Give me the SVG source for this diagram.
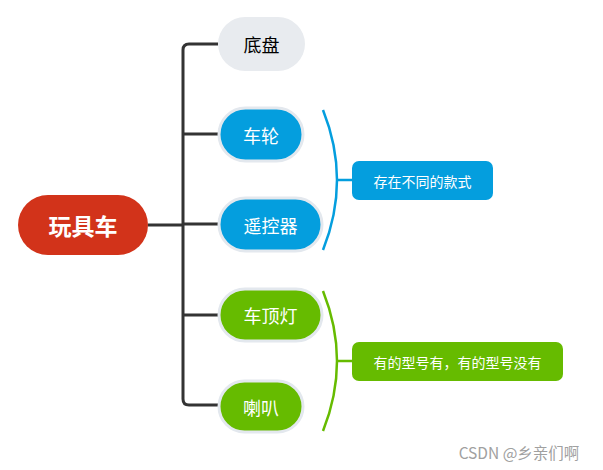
<svg xmlns="http://www.w3.org/2000/svg" width="603" height="470" viewBox="0 0 603 470">
<style>
text{font-family:"Microsoft YaHei","Noto Sans CJK SC",sans-serif;text-anchor:middle;dominant-baseline:central}
.conn{fill:none;stroke:#333;stroke-width:3}
.blue{fill:#049ede;stroke:#e3e8ee;stroke-width:3}
.green{fill:#66bb00;stroke:#e3e8ee;stroke-width:3}
.t{fill:#fff;font-size:18px}
.lt{fill:#fff;font-size:14px}
</style>
<rect width="603" height="470" fill="#fff"/>
<g id="connectors">
<path class="conn" d="M148 225H183"/>
<path class="conn" d="M218 44H189Q183 44 183 50V399Q183 405 189 405H218"/>
<path class="conn" d="M183 134H218M183 224H218M183 315H218"/>
<path d="M323 110Q351 180 323 250M337 180H352" fill="none" stroke="#049ede" stroke-width="2.5"/>
<path d="M323 291Q351 361 323 431M337 361H352" fill="none" stroke="#66bb00" stroke-width="2.5"/>
</g>
<g id="root">
<rect x="18" y="195" width="130" height="60" rx="30" fill="#d2331a"/>
<text x="83" y="225" fill="#fff" font-size="23" font-weight="bold">玩具车</text>
</g>
<g id="n-dipan">
<rect x="218" y="17" width="87" height="54" rx="27" fill="#e8ebef"/>
<text x="261.5" y="44" font-size="18" fill="#000">底盘</text>
</g>
<g id="n-chelun">
<rect class="blue" x="219" y="108" width="84" height="53" rx="26.5"/>
<text class="t" x="261" y="134.5">车轮</text>
</g>
<g id="n-yaokong">
<rect class="blue" x="219" y="198" width="103" height="53" rx="26.5"/>
<text class="t" x="270.5" y="224.5">遥控器</text>
</g>
<g id="n-dingdeng">
<rect class="green" x="219" y="289" width="103" height="52" rx="26"/>
<text class="t" x="270.5" y="315">车顶灯</text>
</g>
<g id="n-laba">
<rect class="green" x="219" y="381" width="84" height="51" rx="25.5"/>
<text class="t" x="261" y="406.5">喇叭</text>
</g>
<g id="label-blue">
<rect x="352" y="161" width="141" height="39" rx="7" fill="#049ede"/>
<text class="lt" x="422.5" y="180.5">存在不同的款式</text>
</g>
<g id="label-green">
<rect x="352" y="342" width="211" height="39" rx="7" fill="#66bb00"/>
<text class="lt" x="457.5" y="361.5">有的型号有，有的型号没有</text>
</g>
<text x="519" y="452" font-size="15.5" fill="#a0a0a0">CSDN @乡亲们啊</text>
</svg>
